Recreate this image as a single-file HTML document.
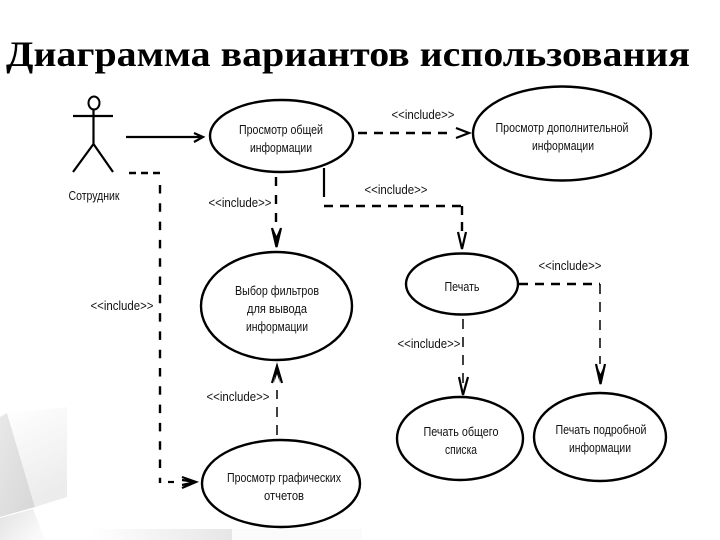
<!DOCTYPE html>
<html><head><meta charset="utf-8">
<style>
html,body{margin:0;padding:0;background:#fff}
svg{display:block}
text{font-family:"Liberation Sans","DejaVu Sans",sans-serif;font-size:13px;fill:#111;text-anchor:middle}
.t{font-family:"Liberation Serif","DejaVu Serif",serif;font-size:36px;font-weight:bold;fill:#000;text-anchor:start}
.e{fill:#fff;stroke:#000;stroke-width:2.4}
.d{fill:none;stroke:#000;stroke-width:2.4;stroke-dasharray:9 7}
.n{fill:none;stroke:#000;stroke-width:1.5;stroke-dasharray:10 8}
.a{fill:none;stroke:#000;stroke-width:2.2}
.h{fill:#000;stroke:none}
</style></head><body>
<svg width="720" height="540" viewBox="0 0 720 540" xmlns="http://www.w3.org/2000/svg">
<defs>
<linearGradient id="g1" x1="0" y1="0" x2="1" y2="1"><stop offset="0" stop-color="#e8e8e8"/><stop offset="1" stop-color="#d6d6d6"/></linearGradient>
<linearGradient id="g4" x1="0" y1="0" x2="0.3" y2="1"><stop offset="0" stop-color="#ffffff"/><stop offset="1" stop-color="#ececec"/></linearGradient>
<linearGradient id="g2" x1="0" y1="0" x2="1" y2="0"><stop offset="0" stop-color="#ffffff"/><stop offset="1" stop-color="#e6e6e6"/></linearGradient>
<linearGradient id="g3" x1="0" y1="0" x2="1" y2="0.6"><stop offset="0" stop-color="#e2e2e2"/><stop offset="1" stop-color="#fafafa"/></linearGradient>
</defs>
<rect width="720" height="540" fill="#fff"/>
<polygon points="0,417 7,413 35,507 0,517" fill="url(#g1)"/>
<polygon points="7,413 67,407 67,497 35,507" fill="url(#g4)"/>
<polygon points="0,518 33,509 45,540 0,540" fill="url(#g3)"/>
<polygon points="90,529 232,529 232,540 90,540" fill="url(#g2)"/>
<rect x="232" y="529" width="130" height="11" fill="#fbfbfb"/>
<text class="t" x="6" y="66" textLength="684" lengthAdjust="spacingAndGlyphs">Диаграмма вариантов использования</text>

<!-- actor -->
<ellipse cx="94" cy="103" rx="5.500" ry="6.500" fill="#fff" stroke="#000" stroke-width="2"/>
<path class="a" d="M73 116H113M93.500 110V144M93.500 144L73 172M93.500 144L113 172"/>
<text x="94" y="200" textLength="51" lengthAdjust="spacingAndGlyphs">Сотрудник</text>

<!-- solid association -->
<path class="a" d="M126 137H202M194 133L203 137L194 142"/>

<!-- dashed connectors -->
<path class="d" style="stroke-dasharray:7 5" d="M129 173H160"/>
<path class="d" style="stroke-dasharray:8.500 9.800" d="M160 185V483"/>
<path class="a" d="M168 482H174"/>
<path class="a" d="M182 477L196 482L182 488M182 480L196 482L182 485"/>
<path class="d" style="stroke-dasharray:9 9" d="M276 177V228"/>
<path class="a" d="M272 228L276.500 247L281 228"/>
<path class="h" d="M273 228L276.500 248L280 228L276.500 236Z"/>
<path class="d" d="M358 133H454"/>
<path class="a" d="M456 128L469 133L456 138"/>
<path class="a" d="M324 168V197"/>
<path class="d" d="M324 206H462"/>
<path class="d" d="M462 206V232"/>
<path class="a" d="M458 232L462 249L466 232"/>
<path class="n" d="M277 435V390"/>
<path class="a" d="M272 383L277 366L282 383"/>
<path class="h" d="M274 383L277 365L280 383L277 374Z"/>
<path class="d" d="M519 284H600"/>
<path class="n" d="M600 284V364"/>
<path class="a" d="M596 364L600.500 384L605 364"/>
<path class="h" d="M597 366L600.500 385L604 366L600.500 374Z"/>
<path class="n" d="M463 319V390"/>
<path class="a" d="M459 377L463 395L468 377"/>

<!-- use cases -->
<ellipse class="e" cx="281.500" cy="136" rx="71.500" ry="36"/>
<ellipse class="e" cx="562" cy="133.500" rx="89" ry="47"/>
<ellipse class="e" cx="276.500" cy="306" rx="75.500" ry="54"/>
<ellipse class="e" cx="462" cy="284" rx="56" ry="30.500"/>
<ellipse class="e" cx="460" cy="438.500" rx="63" ry="41.500"/>
<ellipse class="e" cx="600" cy="437" rx="66" ry="44"/>
<ellipse class="e" cx="281" cy="483.500" rx="79" ry="43.500"/>

<text x="281" y="134" textLength="84" lengthAdjust="spacingAndGlyphs">Просмотр общей</text>
<text x="281" y="152" textLength="62" lengthAdjust="spacingAndGlyphs">информации</text>
<text x="562" y="132" textLength="133" lengthAdjust="spacingAndGlyphs">Просмотр дополнительной</text>
<text x="563" y="150" textLength="62" lengthAdjust="spacingAndGlyphs">информации</text>
<text x="277" y="295" textLength="84" lengthAdjust="spacingAndGlyphs">Выбор фильтров</text>
<text x="277" y="313" textLength="60" lengthAdjust="spacingAndGlyphs">для вывода</text>
<text x="277" y="331" textLength="62" lengthAdjust="spacingAndGlyphs">информации</text>
<text x="462" y="291" textLength="35" lengthAdjust="spacingAndGlyphs">Печать</text>
<text x="461" y="436" textLength="75" lengthAdjust="spacingAndGlyphs">Печать общего</text>
<text x="461" y="454" textLength="32" lengthAdjust="spacingAndGlyphs">списка</text>
<text x="601" y="434" textLength="91" lengthAdjust="spacingAndGlyphs">Печать подробной</text>
<text x="600" y="452" textLength="62" lengthAdjust="spacingAndGlyphs">информации</text>
<text x="284" y="482" textLength="114" lengthAdjust="spacingAndGlyphs">Просмотр графических</text>
<text x="284" y="500" textLength="40" lengthAdjust="spacingAndGlyphs">отчетов</text>

<!-- stereotypes -->
<text x="423" y="119" textLength="63" lengthAdjust="spacingAndGlyphs">&lt;&lt;include&gt;&gt;</text>
<text x="396" y="194" textLength="63" lengthAdjust="spacingAndGlyphs">&lt;&lt;include&gt;&gt;</text>
<text x="240" y="207" textLength="63" lengthAdjust="spacingAndGlyphs">&lt;&lt;include&gt;&gt;</text>
<text x="570" y="270" textLength="63" lengthAdjust="spacingAndGlyphs">&lt;&lt;include&gt;&gt;</text>
<text x="122" y="310" textLength="63" lengthAdjust="spacingAndGlyphs">&lt;&lt;include&gt;&gt;</text>
<text x="429" y="348" textLength="63" lengthAdjust="spacingAndGlyphs">&lt;&lt;include&gt;&gt;</text>
<text x="238" y="401" textLength="63" lengthAdjust="spacingAndGlyphs">&lt;&lt;include&gt;&gt;</text>
</svg>
</body></html>
